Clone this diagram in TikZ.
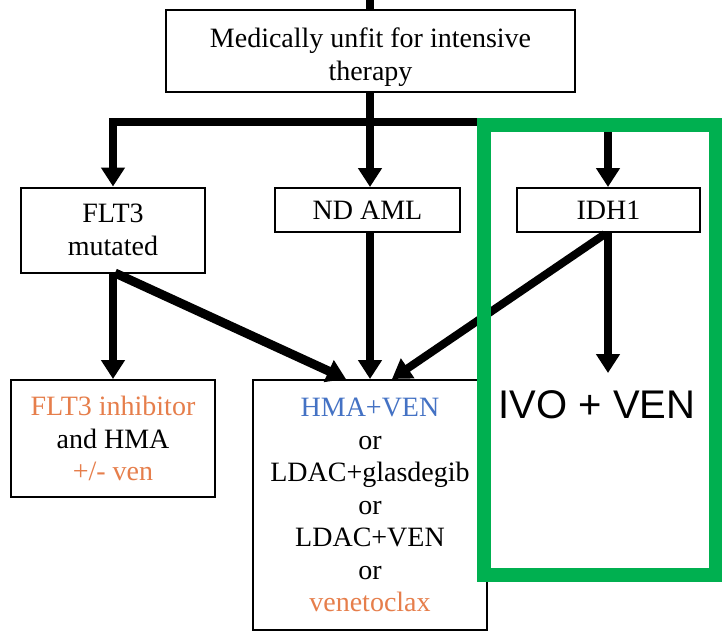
\documentclass[tikz,border=0pt]{standalone}
\usepackage{fontspec}
\setmainfont{Liberation Serif}
\newfontfamily\armfont{Liberation Sans}
\usetikzlibrary{arrows.meta}
\definecolor{txorange}{RGB}{230,126,75}
\definecolor{txblue}{RGB}{68,114,196}
\definecolor{hlgreen}{RGB}{0,176,80}
\tikzset{
  box/.style={draw=black, line width=2pt, fill=white, align=center,
    inner sep=0pt, font=\fontsize{28}{32.5}\selectfont},
  conn/.style={line width=7.5pt, line join=miter},
  tip/.style={-{Triangle[length=19pt,width=23pt]}},
}
\begin{document}
\begin{tikzpicture}[x=1pt,y=-1pt]
\useasboundingbox (0,0) rectangle (722,637);

% boxes
\node[box, minimum width=409pt, minimum height=82pt] (top) at (370.5,51)
  {\rule{0pt}{32pt}Medically unfit for intensive\\therapy};
\node[box, minimum width=184pt, minimum height=85pt] (flt3) at (113,230)
  {FLT3\\mutated};
\node[box, minimum width=185pt, minimum height=44pt] (ndaml) at (367.5,210)
  {ND AML};
\node[box, minimum width=183pt, minimum height=44pt] (idh1) at (608.5,210)
  {IDH1};
\node[box, minimum width=204pt, minimum height=117pt] (flt3inh) at (113,438.5)
  {\textcolor{txorange}{FLT3 inhibitor}\\and HMA\\\textcolor{txorange}{+/- ven}};
\node[box, minimum width=234pt, minimum height=250pt] (hma) at (370,505)
  {\textcolor{txblue}{HMA+VEN}\\or\\LDAC+glasdegib\\or\\LDAC+VEN\\or\\\textcolor{txorange}{venetoclax}};
\node[font=\armfont\fontsize{40}{44}\selectfont, inner sep=0pt] (ivo) at (597,405)
  {IVO + VEN};

% connectors
\coordinate (entry) at (370,0);
\coordinate (split) at (370,122);
\coordinate (idhleft) at (605,234);
\coordinate (flt3low) at (115,273);
\coordinate (ivotip) at (608,373);
\draw[conn] (entry) -- (top.north -| entry);
\draw[conn, tip] (top.south -| split) -- (ndaml.north -| split);
\draw[conn, tip] (split) -| (flt3.north);
\draw[conn, tip] (split) -| (ivotip |- idh1.north);
\draw[conn, tip] (flt3.south) -- (flt3inh.north);
\draw[line width=9pt, tip] (flt3low) -- ([xshift=-24pt]hma.north);
\draw[conn, tip] (ndaml.south -| split) -- (hma.north -| split);
\draw[line width=8pt, tip] (idhleft) -- ([xshift=22pt]hma.north);
\draw[conn, tip] (idh1.south -| ivotip) -- (ivotip);

% highlight frame
\draw[hlgreen, line width=14pt] (484,125) rectangle (716,575);
\end{tikzpicture}
\end{document}
